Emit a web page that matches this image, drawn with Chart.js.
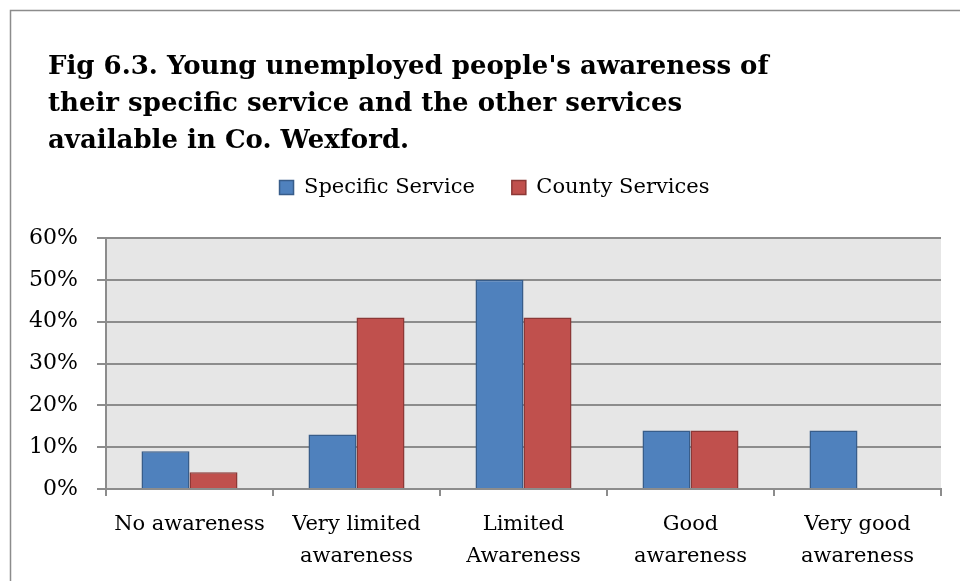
<!DOCTYPE html>
<html>
<head>
<meta charset="utf-8">
<title>Fig 6.3</title>
<script src="https://cdn.jsdelivr.net/npm/chart.js@4/dist/chart.umd.min.js"></script>
<style>
  html, body { margin: 0; padding: 0; background: #fff; }
  #wrap { width: 960px; height: 581px; }
</style>
</head>
<body>
<div id="wrap"><canvas id="awarenessChart" width="960" height="581"></canvas></div>
<script>
const categories = [
    "No awareness",
    ["Very limited", "awareness"],
    ["Limited", "Awareness"],
    ["Good", "awareness"],
    ["Very good", "awareness"]
];
const specificService = [9, 13, 50, 14, 14];
const countyServices = [4, 41, 41, 14, 0];
const yTicks = [0, 10, 20, 30, 40, 50, 60];
const titleLines = [
    "Fig 6.3. Young unemployed people's awareness of",
    "their specific service and the other services",
    "available in Co. Wexford."
];

const serif = "'DejaVu Serif', 'Liberation Serif', serif";
const gridGrey = "#8c8c8c";

// frame, plot background and the three-line heading
const decorations = {
    id: "decorations",
    afterLayout(chart) {
        // legend is centred over the heading column, not the whole canvas
        chart.legend.left = 48;
    },
    beforeDraw(chart) {
        const ctx = chart.ctx;
        const a = chart.chartArea;
        ctx.save();
        ctx.fillStyle = "#e6e6e6";
        ctx.fillRect(a.left, a.top, a.right - a.left, a.bottom - a.top);
        ctx.strokeStyle = "#8c8c8c";
        ctx.lineWidth = 1.5;
        ctx.beginPath();
        ctx.moveTo(10.5, chart.height);
        ctx.lineTo(10.5, 10.5);
        ctx.lineTo(chart.width, 10.5);
        ctx.stroke();
        ctx.restore();
    },
    afterDraw(chart) {
        const ctx = chart.ctx;
        ctx.save();
        ctx.fillStyle = "#000";
        ctx.font = "bold 26px " + serif;
        ctx.textAlign = "left";
        ctx.textBaseline = "alphabetic";
        titleLines.forEach((line, i) => {
            ctx.fillText(line, 48, 74 + i * 37);
        });
        ctx.restore();
    }
};

new Chart(document.getElementById("awarenessChart"), {
    type: "bar",
    data: {
        labels: categories,
        datasets: [{
            label: "Specific Service",
            data: specificService,
            backgroundColor: "#4f81bd",
            borderColor: "#385d8a",
            borderWidth: 1.5
        }, {
            label: "County Services",
            data: countyServices,
            backgroundColor: "#c0504d",
            borderColor: "#8c3836",
            borderWidth: 1.5
        }]
    },
    options: {
        responsive: false,
        animation: false,
        layout: { padding: { left: 20, right: 19, top: 140, bottom: 0 } },
        datasets: {
            bar: { categoryPercentage: 0.575, barPercentage: 1 }
        },
        plugins: {
            title: { display: false },
            // empty spacer between legend and plot
            subtitle: {
                display: true,
                text: "",
                weight: 500,
                padding: 0,
                font: { size: 10, lineHeight: "30px" }
            },
            legend: {
                position: "top",
                labels: {
                    boxWidth: 14,
                    boxHeight: 14,
                    padding: 37,
                    color: "#000",
                    font: { family: serif, size: 21 }
                }
            },
            tooltip: { enabled: false }
        },
        scales: {
            x: {
                grid: {
                    offset: true,
                    drawOnChartArea: false,
                    drawTicks: true,
                    tickLength: 7,
                    color: gridGrey,
                    lineWidth: 2
                },
                border: { display: true, color: gridGrey, width: 2 },
                ticks: {
                    color: "#000",
                    padding: 13,
                    maxRotation: 0,
                    autoSkip: false,
                    font: { family: serif, size: 21, lineHeight: 1.52 }
                },
                afterFit(scale) { scale.height = 92; }
            },
            y: {
                min: 0,
                max: 60,
                afterBuildTicks(scale) {
                    scale.ticks = yTicks.map(v => ({ value: v }));
                },
                grid: {
                    color: gridGrey,
                    lineWidth: 2,
                    tickLength: 9
                },
                border: { display: true, color: gridGrey, width: 2 },
                ticks: {
                    color: "#000",
                    padding: 19,
                    font: { family: serif, size: 22 },
                    callback: v => v + "%"
                },
                afterFit(scale) { scale.width = 86; }
            }
        }
    },
    plugins: [decorations]
});
</script>
</body>
</html>
